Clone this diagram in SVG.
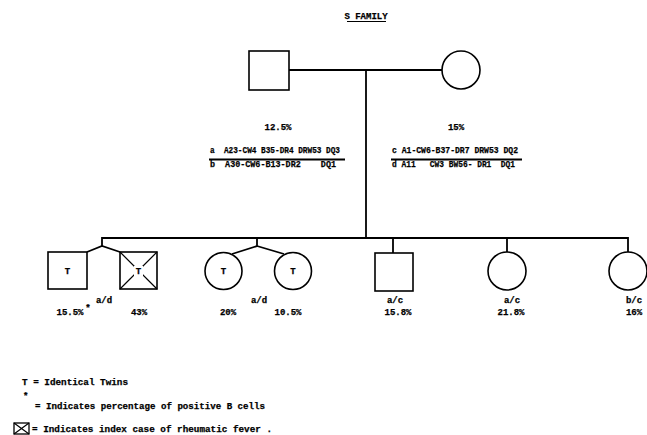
<svg xmlns="http://www.w3.org/2000/svg" width="647" height="435" viewBox="0 0 647 435" xml:space="preserve">
<style>
text{font-family:"Liberation Mono","DejaVu Sans Mono",monospace;font-weight:bold;fill:#000;stroke:#000;stroke-width:0.25;font-size:9px;white-space:pre}
.sh{fill:#fff;stroke:#000;stroke-width:1.6}
.ln{fill:none;stroke:#000;stroke-width:1.8}
.thin{fill:none;stroke:#000;stroke-width:1.2}
</style>
<rect width="647" height="435" fill="#fff"/>
<g id="title">
<text x="366" y="19" text-anchor="middle" font-size="8">S FAMILY</text>
<line x1="347" y1="21.5" x2="386" y2="21.5" class="thin"/>
</g>
<g id="connectors">
<line x1="289" y1="70" x2="442" y2="70" class="ln"/>
<line x1="366" y1="70" x2="366" y2="238" class="ln"/>
<polyline points="102,246 102,238 628,238 628,252" class="ln"/>
<polyline points="87,252 102,246 120,252" class="ln"/>
<polyline points="257,238 257,246 232,254" class="ln"/>
<line x1="257" y1="246" x2="284" y2="254" class="ln"/>
<line x1="393" y1="238" x2="393" y2="253" class="ln"/>
<line x1="507" y1="238" x2="507" y2="252" class="ln"/>
</g>
<g id="father">
<rect x="249" y="51" width="40" height="39" class="sh"/>
<text x="278" y="130" text-anchor="middle">12.5%</text>
</g>
<g id="mother">
<circle cx="461" cy="70" r="19" class="sh"/>
<text x="456" y="130" text-anchor="middle">15%</text>
</g>
<g id="father-haplotypes">
<text x="210" y="153" font-size="8" textLength="130" lengthAdjust="spacingAndGlyphs">a  A23-CW4 B35-DR4 DRW53 DQ3</text>
<line x1="209" y1="159.5" x2="345" y2="159.5" class="ln"/>
<text x="210" y="167" font-size="8" textLength="126" lengthAdjust="spacingAndGlyphs">b  A30-CW6-B13-DR2    DQ1</text>
</g>
<g id="mother-haplotypes">
<text x="392" y="153" font-size="8" textLength="126" lengthAdjust="spacingAndGlyphs">c A1-CW6-B37-DR7 DRW53 DQ2</text>
<line x1="391" y1="159.5" x2="522" y2="159.5" class="ln"/>
<text x="392" y="167" font-size="8" textLength="123" lengthAdjust="spacingAndGlyphs">d A11   CW3 BW56- DR1  DQ1</text>
</g>
<g id="twin-son">
<rect x="48" y="252" width="39" height="37" class="sh"/>
<text x="67.5" y="274" text-anchor="middle">T</text>
<text x="70" y="315" text-anchor="middle">15.5%</text>
<text x="88" y="311" text-anchor="middle" font-size="7">*</text>
</g>
<g id="index-twin">
<rect x="120" y="252" width="37" height="37" class="sh"/>
<line x1="120" y1="252" x2="157" y2="289" class="thin"/>
<line x1="157" y1="252" x2="120" y2="289" class="thin"/>
<rect x="134" y="266" width="9" height="10" fill="#fff"/>
<text x="138.5" y="274" text-anchor="middle">T</text>
<text x="139" y="315" text-anchor="middle">43%</text>
</g>
<text x="104" y="303" text-anchor="middle">a/d</text>
<g id="twin-daughter-1">
<circle cx="223.5" cy="271" r="18.5" class="sh"/>
<text x="223.5" y="274" text-anchor="middle">T</text>
<text x="228" y="315" text-anchor="middle">20%</text>
</g>
<g id="twin-daughter-2">
<circle cx="293" cy="271" r="18.5" class="sh"/>
<text x="293" y="274" text-anchor="middle">T</text>
<text x="288" y="315" text-anchor="middle">10.5%</text>
</g>
<text x="259" y="303" text-anchor="middle">a/d</text>
<g id="son">
<rect x="375" y="253" width="38" height="38" class="sh"/>
<text x="395" y="303" text-anchor="middle">a/c</text>
<text x="398" y="315" text-anchor="middle">15.8%</text>
</g>
<g id="daughter">
<circle cx="507" cy="271" r="19" class="sh"/>
<text x="512" y="303" text-anchor="middle">a/c</text>
<text x="511" y="315" text-anchor="middle">21.8%</text>
</g>
<g id="daughter-bc">
<circle cx="628" cy="271" r="19" class="sh"/>
<text x="634" y="303" text-anchor="middle">b/c</text>
<text x="634" y="315" text-anchor="middle">16%</text>
</g>
<g id="legend">
<text x="22" y="385" textLength="106" lengthAdjust="spacingAndGlyphs">T = Identical Twins</text>
<text x="23" y="399" font-size="7">*</text>
<text x="35" y="409" textLength="230" lengthAdjust="spacingAndGlyphs">= Indicates percentage of positive B cells</text>
<rect x="14" y="423" width="15" height="11" fill="#fff" stroke="#000" stroke-width="1.3"/>
<line x1="14" y1="423" x2="29" y2="434" class="thin"/>
<line x1="29" y1="423" x2="14" y2="434" class="thin"/>
<text x="32" y="432" textLength="240" lengthAdjust="spacingAndGlyphs">= Indicates index case of rheumatic fever .</text>
</g>
</svg>
